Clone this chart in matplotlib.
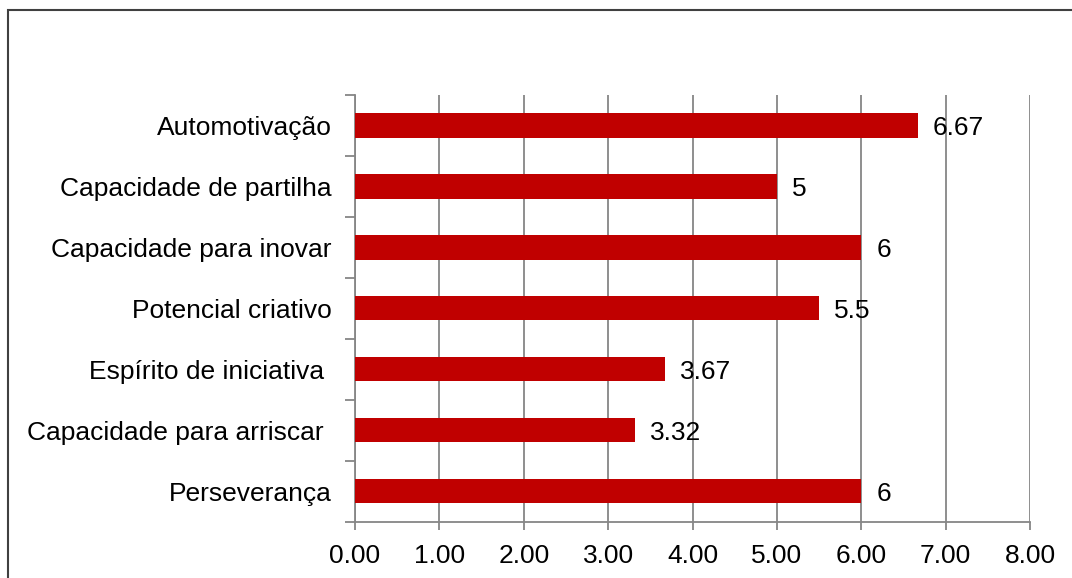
import matplotlib
matplotlib.use("Agg")
import matplotlib.pyplot as plt
from matplotlib.patches import Rectangle
from matplotlib.ticker import FixedLocator, FormatStrFormatter

plt.rcParams['font.family'] = ['Liberation Sans', 'DejaVu Sans']

categories = [
    "Automotivação",
    "Capacidade de partilha",
    "Capacidade para inovar",
    "Potencial criativo",
    "Espírito de iniciativa ",
    "Capacidade para arriscar ",
    "Perseverança",
]
values = [6.67, 5, 6, 5.5, 3.67, 3.32, 6]
x_ticks = [0, 1, 2, 3, 4, 5, 6, 7, 8]

BAR_COLOR = "#C00000"
AXIS_GRAY = "#868686"
FS = 19

fig = plt.figure(figsize=(10.72, 5.78), dpi=100)
ax = fig.add_axes([355 / 1072, 1 - 521.5 / 578, (1030 - 355) / 1072, (521.5 - 95) / 578])

pos = list(range(len(categories)))
bars = ax.barh(pos, values, height=0.4, color=BAR_COLOR, zorder=3)
value_texts = ax.bar_label(bars, labels=[f"{v:g}" for v in values], padding=11,
                           fontsize=FS, color="black", zorder=4)
for t in value_texts:
    t.set_verticalalignment("center_baseline")

ax.set_xlim(0, 8)
ax.set_ylim(len(categories) - 0.5, -0.5)

ax.set_xticks(x_ticks)
ax.xaxis.set_major_formatter(FormatStrFormatter("%.2f"))
ax.grid(axis="x", color=AXIS_GRAY, linewidth=1.3, zorder=1)

ax.set_yticks(pos)
ax.set_yticklabels(categories)
ax.yaxis.set_minor_locator(FixedLocator([p - 0.5 for p in range(len(categories) + 1)]))

ax.tick_params(axis="y", which="major", length=0, pad=17, labelsize=FS)
ax.tick_params(axis="y", which="minor", length=7, width=1.3, color=AXIS_GRAY)
ax.tick_params(axis="x", which="major", length=6, width=1.3, color=AXIS_GRAY,
               pad=10, labelsize=FS)

for side in ("top", "right"):
    ax.spines[side].set_visible(False)
for side in ("left", "bottom"):
    ax.spines[side].set_color(AXIS_GRAY)
    ax.spines[side].set_linewidth(1.3)

# chart-area frame, running off the right and bottom edges
fig.patches.append(Rectangle((7.5 / 1072, -0.1), 1.2, 1.1 - 9.5 / 578,
                             transform=fig.transFigure, fill=False,
                             edgecolor="#404040", linewidth=1.5))

fig.savefig("out.png", dpi=100)
